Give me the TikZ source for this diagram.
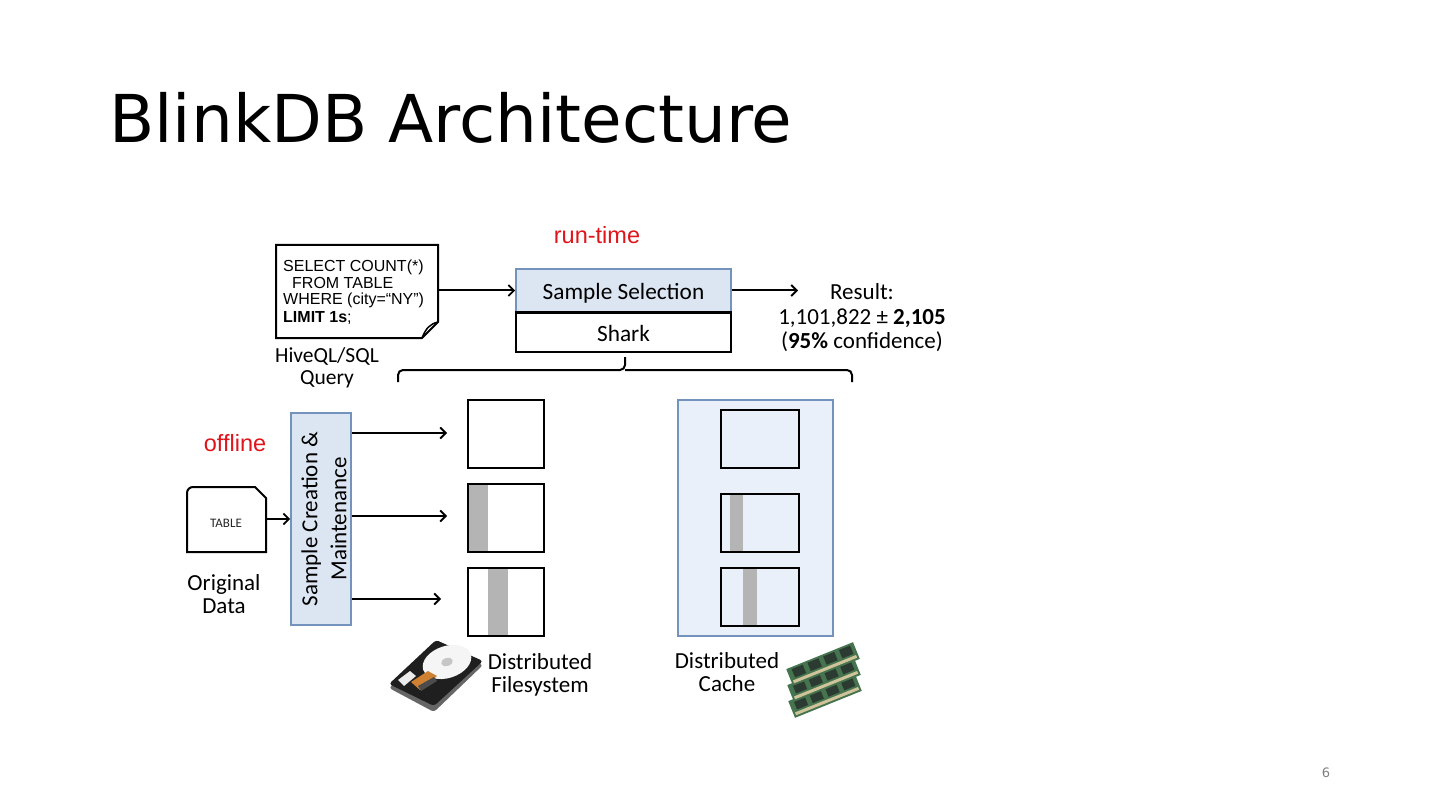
\documentclass[tikz,border=0pt]{standalone}
\usepackage{fontspec}
\setmainfont{DejaVu Sans}
\newfontfamily\calfont{Carlito}
\newfontfamily\arifont{Liberation Sans}
\usetikzlibrary{arrows.meta}
\definecolor{boxblue}{HTML}{DCE6F2}
\definecolor{cacheblue}{HTML}{E9F0F9}
\definecolor{edgeblue}{HTML}{7393BC}
\definecolor{runred}{HTML}{E0141B}
\definecolor{stripgray}{HTML}{B4B4B4}
\definecolor{ramgreen}{HTML}{45744F}
\definecolor{ramchip}{HTML}{2C3B31}
\definecolor{ramgold}{HTML}{CFC39A}
\begin{document}
\begin{tikzpicture}[x=1pt,y=-1pt,
  lab/.style={font=\calfont\fontsize{23.3}{24}\selectfont, align=center, inner sep=0pt},
  qline/.style={font=\arifont\fontsize{16}{17}\selectfont, anchor=base west, inner sep=0pt},
  redlab/.style={font=\arifont\fontsize{23.5}{26}\selectfont, text=runred, inner sep=0pt},
  blk/.style={draw=black, line width=2.2pt, inner sep=0pt},
  bluebox/.style={draw=edgeblue, fill=boxblue, line width=1.6pt, inner sep=0pt},
  arr/.style={line width=2pt, -{Straight Barb[length=5.5pt,width=11pt,line width=1.8pt]}},
  ramstick/.pic={
    \fill[ramgreen] (-36,-9) rectangle (36,9);
    \foreach \cx in {-25,-8,9,26} \fill[ramchip] (\cx-6,-7) rectangle (\cx+6,2);
    \fill[ramgold] (-34,4) rectangle (34,7);
  }
]
\useasboundingbox[fill=white] (0,0) rectangle (1440,810);

% title
\node[anchor=base west, inner sep=0pt, font=\fontsize{66}{70}\selectfont] (title) at (109,143) {BlinkDB Architecture};

% query document
\draw[line width=2pt, fill=white] (276,245) -- (438,245) -- (438,322) -- (422,338) -- (276,338) -- cycle;
\draw[line width=1.5pt] (438,322) .. controls (430,324) and (426,328) .. (422,338);
\node[inner sep=0pt, minimum width=162pt, minimum height=93pt] (query) at (357,291.5) {};
\node[qline] (q1) at (283,272) {SELECT COUNT(*)};
\node[qline] (q2) at (292,289) {FROM TABLE};
\node[qline] (q3) at (283,305) {WHERE (city=“NY”)};
\node[qline] (q4) at (283,322) {\textbf{LIMIT 1s};};
\node[lab, font=\calfont\fontsize{21.5}{21.5}\selectfont] (hive) at (327,368) {HiveQL/SQL\\Query};

% run-time
\node[redlab] (runtime) at (597,235) {run-time};

% sample selection / shark
\node[bluebox, minimum width=215pt, minimum height=43pt] (ss) at (623.5,290.5) {};
\node[lab] (sstext) at (623.5,293) {Sample Selection};
\node[blk, fill=white, minimum width=215pt, minimum height=40pt] (shark) at (623.5,332) {};
\node[lab] (sharktext) at (623.5,333) {Shark};
\draw[line width=2pt] (ss.south west) -- (ss.south east);

\draw[arr] (query.east |- ss.west) -- (ss.west);

% result
\node[lab, font=\calfont\fontsize{23}{24.5}\selectfont] (res) at (862,318) {Result:\\1,101,822 ± \textbf{2,105}\\(\textbf{95\%} confidence)};
\coordinate (resin) at (798,290.5);
\draw[arr] (ss.east) -- (resin);

% brace
\coordinate (bl) at (398,382);
\coordinate (bm) at (625,370);
\coordinate (bt) at (625,357);
\coordinate (br) at (852,382);
\draw[line width=2pt, rounded corners=5pt] (bl) |- (bm) -- (bt);
\draw[line width=2pt, rounded corners=5pt] (bm) -| (br);

% offline
\node[redlab] (offline) at (235,443) {offline};

% table doc
\draw[line width=2pt, fill=white] (187,552) -- (187,497) [rounded corners=6pt] -- (187,487) [sharp corners] -- (255,487) -- (266,498) -- (266,552) -- cycle;
\node[inner sep=0pt, minimum width=79pt, minimum height=65pt] (tbl) at (226.5,519.5) {};
\node[font=\calfont\fontsize{13}{13}\selectfont, text=black!85, inner sep=0pt] (tbltext) at (226,523) {TABLE};
\node[lab, font=\calfont\fontsize{23}{23}\selectfont] (orig) at (224,594) {Original\\Data};

% sample creation
\node[bluebox, minimum width=60pt, minimum height=212pt] (sc) at (321,519) {};
\node[lab, rotate=90, font=\calfont\fontsize{23}{29}\selectfont] (sctext) at (324,519) {Sample Creation \&\\Maintenance};
\draw[arr] (tbl.east |- sc.west) -- (sc.west);

% disk samples
\fill[stripgray] (468,484) rectangle (488,552);
\fill[stripgray] (488,568) rectangle (508,636);
\node[blk, minimum width=76pt, minimum height=68pt] (d1) at (506,434) {};
\node[blk, minimum width=76pt, minimum height=68pt] (d2) at (506,518) {};
\node[blk, minimum width=76pt, minimum height=68pt] (d3) at (506,602) {};

\coordinate (a1) at (447,433);
\coordinate (a2) at (447,516);
\coordinate (a3) at (441,599);
\draw[arr] (sc.east |- a1) -- (a1);
\draw[arr] (sc.east |- a2) -- (a2);
\draw[arr] (sc.east |- a3) -- (a3);

% cache
\node[draw=edgeblue, fill=cacheblue, line width=1.6pt, inner sep=0pt, minimum width=155pt, minimum height=236pt] (cache) at (755.5,518) {};
\fill[stripgray] (730,494) rectangle (743,552);
\fill[stripgray] (743,568) rectangle (757,626);
\node[blk, minimum width=78pt, minimum height=58pt] (c1) at (760,439) {};
\node[blk, minimum width=78pt, minimum height=58pt] (c2) at (760,523) {};
\node[blk, minimum width=78pt, minimum height=58pt] (c3) at (760,597) {};

% labels
\node[lab, font=\calfont\fontsize{23}{23}\selectfont] (dfs) at (540,675) {Distributed\\Filesystem};
\node[lab, font=\calfont\fontsize{23}{23}\selectfont] (dc) at (727,672) {Distributed\\Cache};

% hard drive
\fill[black!60, rounded corners=3pt] (389,688) -- (436,645) -- (483,665) -- (434,712) -- cycle;
\fill[black!88, rounded corners=3pt] (389,684) -- (436,640) -- (483,661) -- (434,706) -- cycle;
\fill[white!92!gray, rotate around={18:(447,662)}] (447,662) ellipse [x radius=25pt, y radius=16pt];
\fill[gray!45, rotate around={18:(447,662)}] (447,662) ellipse [x radius=6pt, y radius=4pt];
\fill[white!85!gray] (398,680) -- (410,671) -- (416,676) -- (404,686) -- cycle;
\fill[brown!75!orange] (411,682) -- (428,671) -- (437,676) -- (420,690) -- cycle;
\fill[black!70] (418,686) -- (434,677) -- (437,681) -- (421,691) -- cycle;

% RAM
\pic[rotate=22] at (825,696) {ramstick};
\pic[rotate=22] at (824,680) {ramstick};
\pic[rotate=22] at (823,664) {ramstick};

% page number
\node[font=\fontsize{13}{15}\selectfont, text=gray, inner sep=0pt] (pg) at (1326,773) {6};
\end{tikzpicture}
\end{document}
